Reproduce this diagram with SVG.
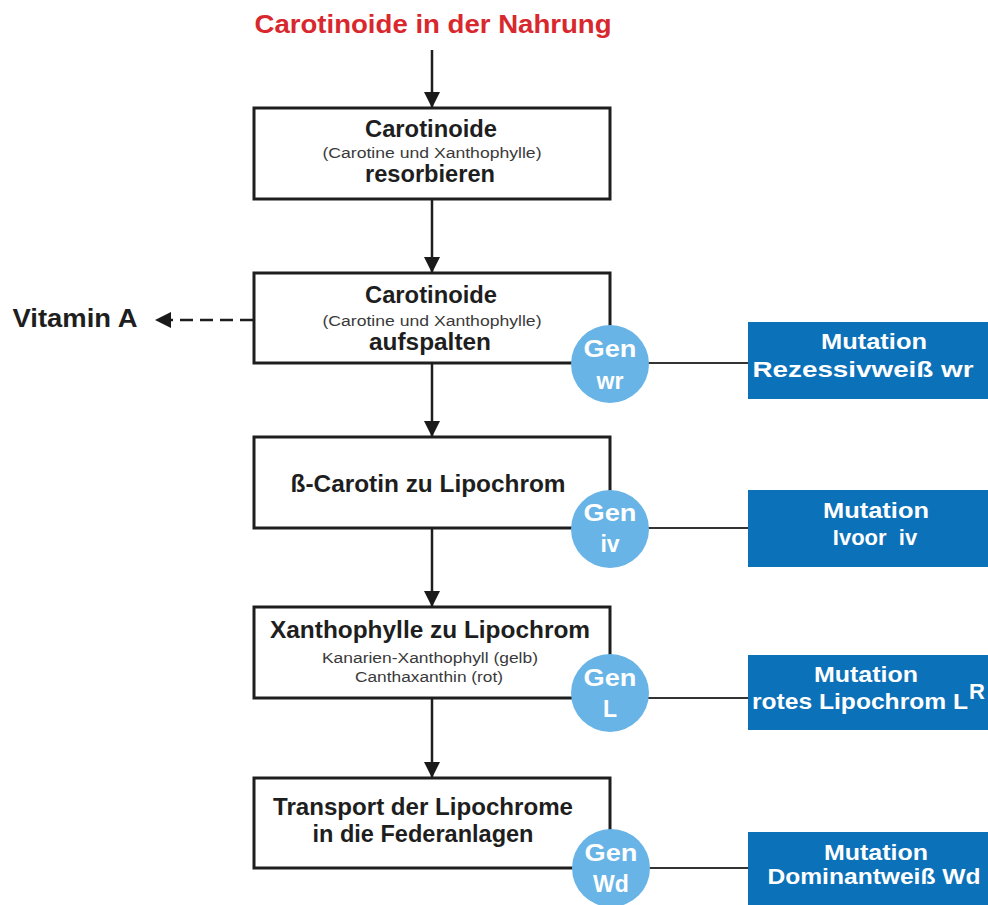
<svg xmlns="http://www.w3.org/2000/svg" width="988" height="905" viewBox="0 0 988 905">
  <defs>
    <marker id="ah" markerUnits="userSpaceOnUse" markerWidth="16" markerHeight="18" refX="16" refY="8" orient="auto">
      <path d="M0,0 L16,8 L0,16 Z" fill="#1a1a1a"/>
    </marker>
    <style>
      .box { fill: #ffffff; stroke: #1e1e1e; stroke-width: 3; }
      .conn { stroke: #1e1e1e; stroke-width: 2.5; fill: none; }
      .thin { stroke: #333333; stroke-width: 2; fill: none; }
      .gen { fill: #68b4e6; }
      .mut { fill: #0b71b8; }
      .t { font-family: "Liberation Sans", Arial, sans-serif; text-anchor: middle; }
      .b { font-weight: bold; fill: #1e1e1e; font-size: 23px; }
      .s { fill: #3a3a3a; font-size: 15.5px; }
      .w { fill: #ffffff; font-weight: bold; font-size: 22px; }
      .gw { fill: #ffffff; font-weight: bold; font-size: 23px; }
    </style>
  </defs>
  <rect width="988" height="905" fill="#ffffff"/>

  <g id="connectors">
    <line class="conn" x1="432" y1="50" x2="432" y2="108" marker-end="url(#ah)"/>
    <line class="conn" x1="432" y1="199" x2="432" y2="273" marker-end="url(#ah)"/>
    <line class="conn" x1="432" y1="363" x2="432" y2="437" marker-end="url(#ah)"/>
    <line class="conn" x1="432" y1="528" x2="432" y2="607" marker-end="url(#ah)"/>
    <line class="conn" x1="432" y1="698" x2="432" y2="778" marker-end="url(#ah)"/>
    <line class="conn" x1="253" y1="320" x2="155" y2="320" stroke-dasharray="13 7" marker-end="url(#ah)" stroke-width="3"/>
    <line class="thin" x1="610" y1="363" x2="748" y2="363"/>
    <line class="thin" x1="610" y1="528" x2="748" y2="528"/>
    <line class="thin" x1="610" y1="698" x2="748" y2="698"/>
    <line class="thin" x1="610" y1="868" x2="748" y2="868"/>
  </g>

  <g id="title">
    <text class="t" x="433" y="33" font-size="25" font-weight="bold" fill="#d8282e" textLength="357" lengthAdjust="spacingAndGlyphs">Carotinoide in der Nahrung</text>
  </g>

  <g id="vitaminA">
    <text class="t" x="75" y="327" font-size="26" font-weight="bold" fill="#1e1e1e" textLength="125" lengthAdjust="spacingAndGlyphs">Vitamin A</text>
  </g>

  <g id="box1">
    <rect class="box" x="254" y="108" width="356" height="91"/>
    <text class="t b" x="431" y="137" textLength="132" lengthAdjust="spacingAndGlyphs">Carotinoide</text>
    <text class="t s" x="432" y="158" textLength="219" lengthAdjust="spacingAndGlyphs">(Carotine und Xanthophylle)</text>
    <text class="t b" x="430" y="182" textLength="130" lengthAdjust="spacingAndGlyphs">resorbieren</text>
  </g>

  <g id="box2">
    <rect class="box" x="254" y="273" width="356" height="90"/>
    <text class="t b" x="431" y="303" textLength="132" lengthAdjust="spacingAndGlyphs">Carotinoide</text>
    <text class="t s" x="432" y="326" textLength="219" lengthAdjust="spacingAndGlyphs">(Carotine und Xanthophylle)</text>
    <text class="t b" x="430" y="350" textLength="122" lengthAdjust="spacingAndGlyphs">aufspalten</text>
  </g>

  <g id="box3">
    <rect class="box" x="254" y="437" width="356" height="91"/>
    <text class="t b" x="428" y="492" textLength="275" lengthAdjust="spacingAndGlyphs">ß-Carotin zu Lipochrom</text>
  </g>

  <g id="box4">
    <rect class="box" x="254" y="607" width="356" height="91"/>
    <text class="t b" x="430" y="638" textLength="320" lengthAdjust="spacingAndGlyphs">Xanthophylle zu Lipochrom</text>
    <text class="t s" x="430" y="663" textLength="216" lengthAdjust="spacingAndGlyphs">Kanarien-Xanthophyll (gelb)</text>
    <text class="t s" x="429" y="682" textLength="148" lengthAdjust="spacingAndGlyphs">Canthaxanthin (rot)</text>
  </g>

  <g id="box5">
    <rect class="box" x="254" y="778" width="356" height="90"/>
    <text class="t b" x="423" y="815" textLength="300" lengthAdjust="spacingAndGlyphs">Transport der Lipochrome</text>
    <text class="t b" x="423" y="842" textLength="221" lengthAdjust="spacingAndGlyphs">in die Federanlagen</text>
  </g>

  <g id="gen-wr">
    <circle class="gen" cx="610" cy="364" r="39"/>
    <text class="t gw" x="610" y="357" textLength="53" lengthAdjust="spacingAndGlyphs">Gen</text>
    <text class="t gw" x="610" y="389">wr</text>
  </g>
  <g id="gen-iv">
    <circle class="gen" cx="610" cy="529" r="39"/>
    <text class="t gw" x="610" y="521" textLength="53" lengthAdjust="spacingAndGlyphs">Gen</text>
    <text class="t gw" x="610" y="552">iv</text>
  </g>
  <g id="gen-L">
    <circle class="gen" cx="610" cy="693" r="39"/>
    <text class="t gw" x="610" y="686" textLength="53" lengthAdjust="spacingAndGlyphs">Gen</text>
    <text class="t gw" x="610" y="717">L</text>
  </g>
  <g id="gen-Wd">
    <circle class="gen" cx="611" cy="868" r="39"/>
    <text class="t gw" x="611" y="861" textLength="53" lengthAdjust="spacingAndGlyphs">Gen</text>
    <text class="t gw" x="611" y="892">Wd</text>
  </g>

  <g id="mut-wr">
    <rect class="mut" x="748" y="322" width="242" height="77"/>
    <text class="t w" x="874" y="349" textLength="106" lengthAdjust="spacingAndGlyphs">Mutation</text>
    <text class="t w" x="863" y="377" textLength="221" lengthAdjust="spacingAndGlyphs">Rezessivweiß wr</text>
  </g>
  <g id="mut-iv">
    <rect class="mut" x="748" y="490" width="242" height="77"/>
    <text class="t w" x="876" y="518" textLength="106" lengthAdjust="spacingAndGlyphs">Mutation</text>
    <text class="t w" x="875" y="545" xml:space="preserve">Ivoor  iv</text>
  </g>
  <g id="mut-L">
    <rect class="mut" x="748" y="655" width="242" height="75"/>
    <text class="t w" x="866" y="682" textLength="104" lengthAdjust="spacingAndGlyphs">Mutation</text>
    <text class="t w" x="860" y="709" textLength="216" lengthAdjust="spacingAndGlyphs">rotes Lipochrom L</text>
    <text class="w" x="969" y="699" font-family="Liberation Sans, Arial, sans-serif" font-size="13">R</text>
  </g>
  <g id="mut-Wd">
    <rect class="mut" x="748" y="832" width="242" height="75"/>
    <text class="t w" x="876" y="860" textLength="104" lengthAdjust="spacingAndGlyphs">Mutation</text>
    <text class="t w" x="874" y="884" textLength="213" lengthAdjust="spacingAndGlyphs">Dominantweiß Wd</text>
  </g>
</svg>
